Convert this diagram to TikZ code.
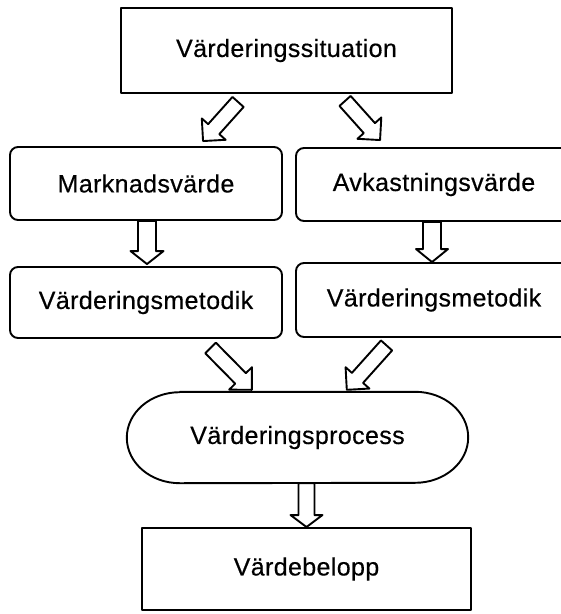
\documentclass[tikz,border=0pt]{standalone}
\usepackage{fontspec}
\setmainfont{Liberation Sans}[LetterSpace=1.5, FakeBold=0.4]
\usetikzlibrary{calc}

% hollow block arrow: tail #1, tip #2, shaft half-width #3, head half-width #4, head length #5
\newcommand\blockarrow[5]{%
  \draw[blockarrow]
    ($#1!#3!90:#2$) -- ($#2!#5!#1!#3!-90:#1$) -- ($#2!#5!#1!#4!-90:#1$) -- #2
    -- ($#2!#5!#1!#4!90:#1$) -- ($#2!#5!#1!#3!90:#1$) -- ($#1!#3!-90:#2$) -- cycle;}

\tikzset{
  x=1pt, y=-1pt,
  outline/.style={line width=1.9pt, line join=round},
  labeltext/.style={font=\fontsize{25}{30}\selectfont},
  squarebox/.style={draw, outline, labeltext, inner sep=0pt},
  roundbox/.style={squarebox, rounded corners=8pt},
  blockarrow/.style={outline, fill=white},
}

\begin{document}
\begin{tikzpicture}
  \useasboundingbox (0,0) rectangle (561,614);
  \clip (0,0) rectangle (561,614);

  % boxes
  \node[squarebox, minimum width=331pt, minimum height=85pt] (sit) at (286.5,50.5) {Värderingssituation};
  \node[roundbox, minimum width=272pt, minimum height=73pt] (mark) at (146,183.5) {Marknadsvärde};
  \node[roundbox, minimum width=276pt, minimum height=73pt] (avk) at (434,184.5) {Avkastningsvärde};
  \node[roundbox, minimum width=272pt, minimum height=71pt] (metL) at (146,302.5) {Värderingsmetodik};
  \node[roundbox, minimum width=276pt, minimum height=74pt] (metR) at (434,300) {Värderingsmetodik};
  \node[labeltext, inner sep=0pt, minimum width=341pt, minimum height=91pt] (proc) at (297.5,437.5) {Värderingsprocess};
  \draw[outline] ($(proc.north west)+(53,0)$) -- ($(proc.north east)+(-53,0)$)
    arc[start angle=90, end angle=-90, x radius=53pt, y radius=45.5pt]
    -- ($(proc.south west)+(53,0)$)
    arc[start angle=270, end angle=90, x radius=53pt, y radius=45.5pt] -- cycle;
  \node[squarebox, minimum width=329pt, minimum height=82pt] (belopp) at (306.5,569) {Värdebelopp};

  % arrow end points
  \coordinate (a1t) at ($(sit.south west)+(118,8)$);
  \coordinate (a1h) at ($(mark.north west)+(194,-5)$);
  \coordinate (a2t) at ($(sit.south west)+(225,7)$);
  \coordinate (a2h) at ($(avk.north west)+(85,-7)$);
  \coordinate (a3t) at ($(metL.south west)+(201.5,9)$);
  \coordinate (a3h) at ($(proc.north west)+(125,-2)$);
  \coordinate (a4t) at ($(metR.south west)+(91.5,7.5)$);
  \coordinate (a4h) at ($(proc.north west)+(220,-2)$);
  \coordinate (a5t) at ($(mark.south)+(1,0)$);
  \coordinate (a5h) at ($(metL.north)+(1,-2)$);
  \coordinate (a6t) at ($(avk.south)+(-2,0)$);
  \coordinate (a6h) at ($(metR.north)+(-2,0)$);
  \coordinate (a7t) at (belopp.north |- proc.south);
  \coordinate (a7h) at (belopp.north);

  % block arrows
  \blockarrow{(a1t)}{(a1h)}{7.5pt}{16pt}{16pt}
  \blockarrow{(a2t)}{(a2h)}{7.5pt}{16pt}{16pt}
  \blockarrow{(a3t)}{(a3h)}{7.5pt}{16pt}{16pt}
  \blockarrow{(a4t)}{(a4h)}{7.5pt}{16pt}{16pt}
  \blockarrow{(a5t)}{(a5h)}{9pt}{16.5pt}{13pt}
  \blockarrow{(a6t)}{(a6h)}{9pt}{16pt}{13pt}
  \blockarrow{(a7t)}{(a7h)}{8pt}{16pt}{12pt}
\end{tikzpicture}
\end{document}
